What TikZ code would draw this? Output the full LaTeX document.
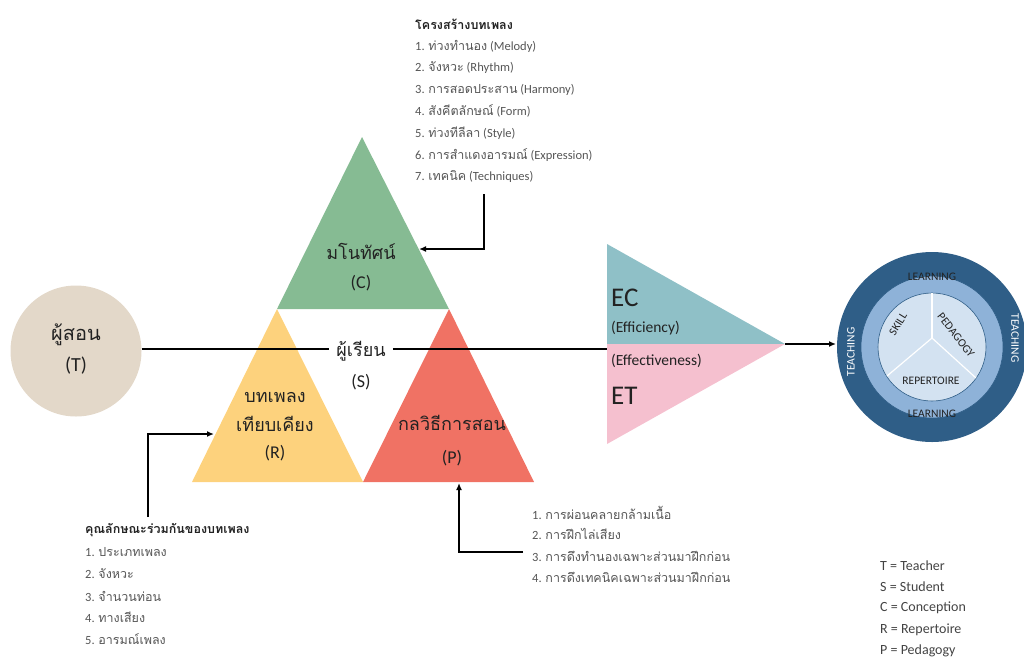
\documentclass[tikz,border=0pt]{standalone}
\usepackage{fontspec}
\setmainfont{Carlito}
\newfontfamily\thai[Script=Thai]{Loma}
\usetikzlibrary{arrows.meta, positioning}

\definecolor{conc}{HTML}{86BB93}
\definecolor{rep}{HTML}{FDD27D}
\definecolor{ped}{HTML}{F07264}
\definecolor{teach}{HTML}{E3D8C9}
\definecolor{effc}{HTML}{8FC0C7}
\definecolor{efft}{HTML}{F5C0CF}
\definecolor{ringA}{HTML}{2F5E87}
\definecolor{ringB}{HTML}{8EB2D8}
\definecolor{ringC}{HTML}{D3E2F1}
\definecolor{ink}{HTML}{222222}
\definecolor{listgray}{HTML}{555555}

\begin{document}
\begin{tikzpicture}[x=1pt, y=-1pt,
    lbl/.style={text=ink, inner sep=1pt, font=\fontsize{18}{22}\selectfont},
    item/.style={anchor=west, inner sep=0pt, text=listgray, font=\fontsize{12.5}{15}\selectfont},
    head/.style={anchor=west, inner sep=0pt, text=ink, font=\bfseries\fontsize{12.5}{15}\selectfont},
    key/.style={anchor=west, inner sep=0pt, text=ink!85, font=\fontsize{14}{16}\selectfont},
    ring/.style={inner sep=0pt, font=\fontsize{11.5}{13}\selectfont},
    conn/.style={line width=1.4pt, -{Latex[length=7pt, width=6pt]}}]
    \useasboundingbox (0,0) rectangle (1024,657);

    % teacher
    \node[circle, fill=teach, minimum size=131pt, inner sep=0pt] (T) at (76,351) {};
    \node[lbl, font=\fontsize{20}{24}\selectfont] (T1) at (76,335) {\thai ผู้สอน};
    \node[lbl, font=\fontsize{20}{24}\selectfont] (T2) at (76,366) {(T)};

    % triangles
    \coordinate (Ca) at (362,137);
    \coordinate (Cl) at (277,309);
    \coordinate (Cr) at (449,309);
    \coordinate (Rb) at (192,482);
    \coordinate (Mb) at (363,482);
    \coordinate (Pb) at (534,482);
    \fill[conc] (Ca) -- (Cl) -- (Cr) -- cycle;
    \fill[rep] (Cl) -- (Rb) -- (Mb) -- cycle;
    \fill[ped] (Cr) -- (Mb) -- (Pb) -- cycle;

    \node[lbl] (C1) at (361,251) {\thai มโนทัศน์};
    \node[lbl] (C2) at (361,283) {(C)};
    \node[lbl, inner xsep=7pt] (S1) at (361,351) {\thai ผู้เรียน};
    \node[lbl] (S2) at (361,382) {(S)};
    \node[lbl] (R1) at (275,397) {\thai บทเพลง};
    \node[lbl] (R2) at (275,424) {\thai เทียบเคียง};
    \node[lbl] (R3) at (275,453) {(R)};
    \node[lbl] (P1) at (452,423) {\thai กลวิธีการสอน};
    \node[lbl] (P2) at (452,458) {(P)};

    % outcome
    \coordinate (Et) at (607,244);
    \coordinate (Em) at (607,344);
    \coordinate (Eb) at (607,444);
    \coordinate (Ea) at (785,344);
    \fill[effc] (Et) -- (Ea) -- (Em) -- cycle;
    \fill[efft] (Em) -- (Ea) -- (Eb) -- cycle;
    \node[anchor=west, inner sep=0pt, text=ink, font=\fontsize{27}{30}\selectfont] (EC) at (611,298) {EC};
    \node[anchor=west, inner sep=0pt, text=ink, font=\fontsize{15.5}{17}\selectfont] (EC2) at (611,328) {(Efficiency)};
    \node[anchor=west, inner sep=0pt, text=ink, font=\fontsize{15.5}{17}\selectfont] (ET2) at (611,361) {(Effectiveness)};
    \node[anchor=west, inner sep=0pt, text=ink, font=\fontsize{27}{30}\selectfont] (ET) at (611,396) {ET};

    \coordinate (Ein) at (607,349);
    \draw[line width=1.6pt] (T.east |- Ein) -- (S1.west |- Ein);
    \draw[line width=1.6pt] (S1.east |- Ein) -- (Ein);

    % model
    \coordinate (M) at (932,347);
    \fill[ringA] (M) circle [radius=95pt];
    \fill[ringB] (M) circle [radius=71pt];
    \draw[ringA, line width=0.6pt] (M) circle [radius=71pt];
    \fill[ringC] (M) circle [radius=54pt];
    \draw[ringA, line width=0.6pt] (M) circle [radius=54pt];
    \coordinate (Mj) at (932,338);
    \draw[white, line width=1.2pt] (Mj) -- (932,293);
    \draw[white, line width=1.2pt] (Mj) -- (887,376);
    \draw[white, line width=1.2pt] (Mj) -- (976,378);
    \node[ring, text=white, rotate=90] (L1) at (851,352) {TEACHING};
    \node[ring, text=white, rotate=-90] (L2) at (1015,338) {TEACHING};
    \node[ring, text=ink] (L3) at (932,277) {LEARNING};
    \node[ring, text=ink] (L4) at (932,414) {LEARNING};
    \node[ring, text=ink, rotate=58] (L5) at (898,324) {SKILL};
    \node[ring, text=ink, rotate=-52] (L6) at (956,335) {PEDAGOGY};
    \node[ring, text=ink] (L7) at (931,381) {REPERTOIRE};
    \coordinate (Min) at (836,344);
    \draw[conn] (Ea) -- (Min);

    % conception list
    \node[head] (H1) at (415,24) {\thai โครงสร้างบทเพลง};
    \node[item] (H11) at (415,46) {1. {\thai ท่วงทำนอง} (Melody)};
    \node[item] (H12) at (415,68) {2. {\thai จังหวะ} (Rhythm)};
    \node[item] (H13) at (415,90) {3. {\thai การสอดประสาน} (Harmony)};
    \node[item] (H14) at (415,111) {4. {\thai สังคีตลักษณ์} (Form)};
    \node[item] (H15) at (415,133) {5. {\thai ท่วงทีลีลา} (Style)};
    \node[item] (H16) at (415,155) {6. {\thai การสำแดงอารมณ์} (Expression)};
    \node[item] (H17) at (415,176) {7. {\thai เทคนิค} (Techniques)};
    \coordinate (cs) at (484,194);
    \coordinate (ce) at (419,249);
    \draw[conn] (cs) |- (ce);

    % repertoire list
    \node[head] (H2) at (85,530) {\thai คุณลักษณะร่วมกันของบทเพลง};
    \node[item] (H21) at (85,552) {1. {\thai ประเภทเพลง}};
    \node[item] (H22) at (85,574) {2. {\thai จังหวะ}};
    \node[item] (H23) at (85,596) {3. {\thai จำนวนท่อน}};
    \node[item] (H24) at (85,617) {4. {\thai ทางเสียง}};
    \node[item] (H25) at (85,639) {5. {\thai อารมณ์เพลง}};
    \coordinate (rs) at (148,517);
    \coordinate (re) at (214,434);
    \draw[conn] (rs) |- (re);

    % pedagogy list
    \node[item] (H31) at (532,513) {1. {\thai การผ่อนคลายกล้ามเนื้อ}};
    \node[item] (H32) at (532,534) {2. {\thai การฝึกไล่เสียง}};
    \node[item] (H33) at (532,556) {3. {\thai การดึงทำนองเฉพาะส่วนมาฝึกก่อน}};
    \node[item] (H34) at (532,577) {4. {\thai การดึงเทคนิคเฉพาะส่วนมาฝึกก่อน}};
    \coordinate (ps) at (523,552);
    \coordinate (pe) at (459,483);
    \draw[conn] (ps) -| (pe);

    % legend
    \node[key] (K1) at (880,566) {T = Teacher};
    \node[key] (K2) at (880,587) {S = Student};
    \node[key] (K3) at (880,608) {C = Conception};
    \node[key] (K4) at (880,630) {R = Repertoire};
    \node[key] (K5) at (880,651) {P = Pedagogy};
\end{tikzpicture}
\end{document}
